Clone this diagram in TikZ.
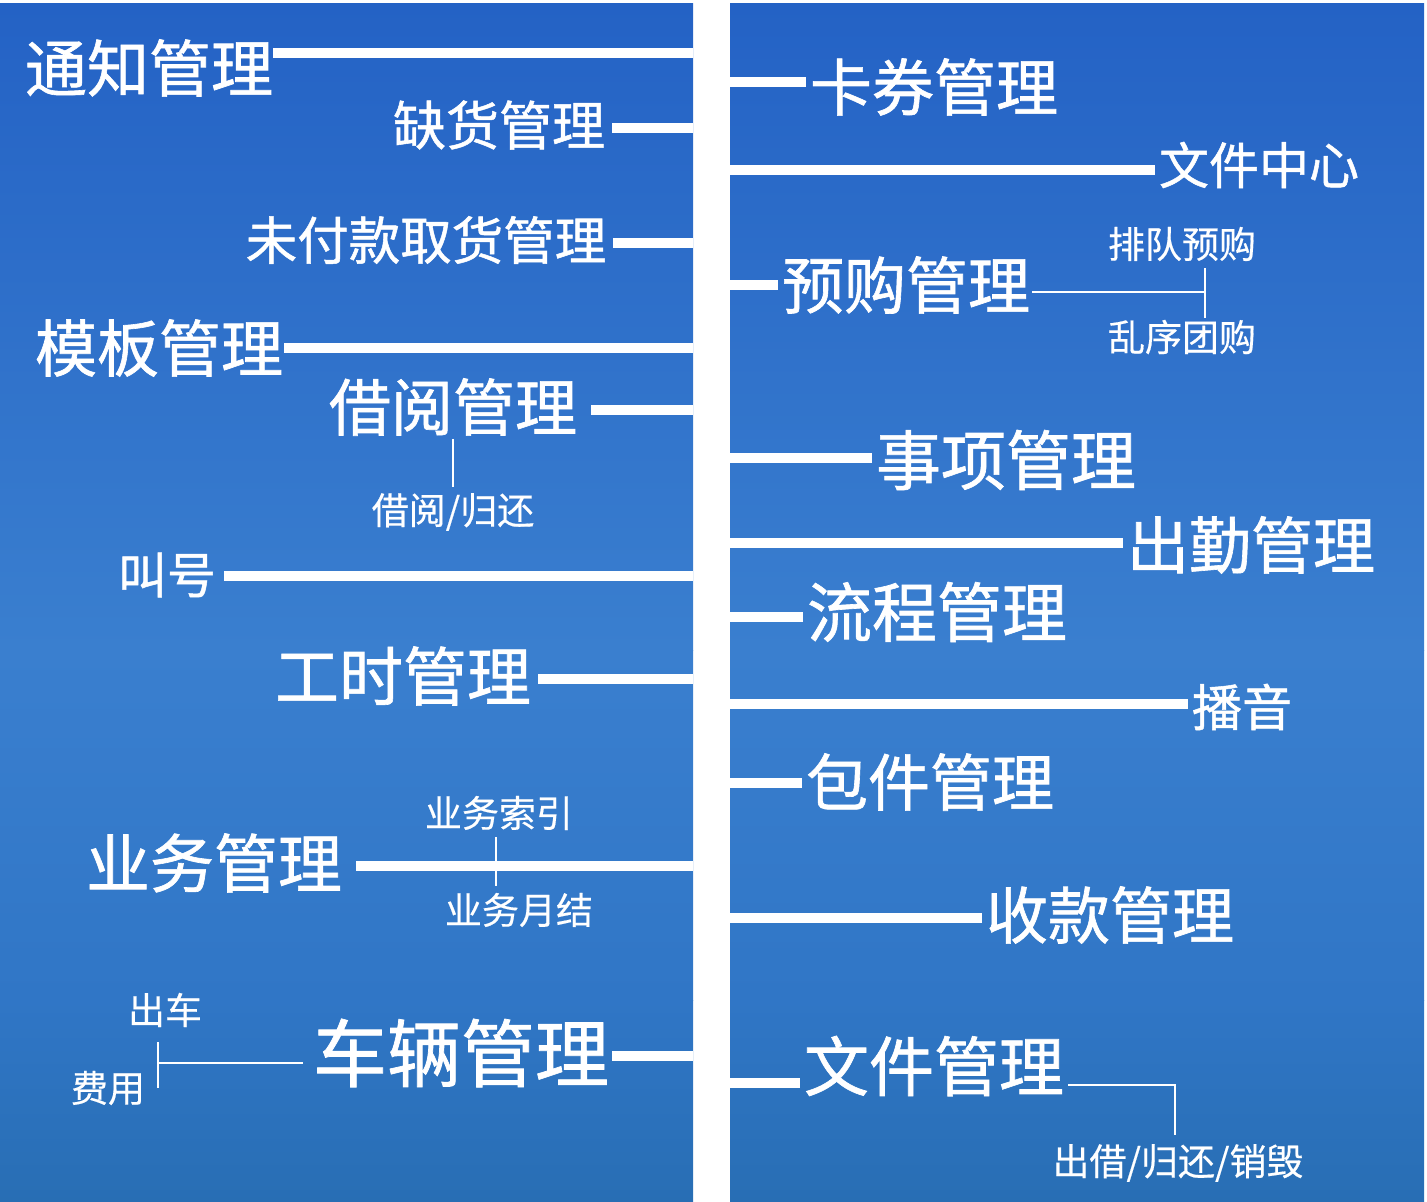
\documentclass[tikz,border=0pt]{standalone}
\usepackage{fontspec}
\newfontfamily\cjk[FakeBold=0.4]{Noto Sans CJK SC}
\newfontfamily\cjkbold[FakeBold=1]{Noto Sans CJK SC}
\definecolor{skytop}{RGB}{36,98,197}
\definecolor{skymid}{RGB}{58,127,207}
\definecolor{skylow}{RGB}{48,118,198}
\definecolor{grass}{RGB}{40,110,180}

\begin{document}
\begin{tikzpicture}[x=1pt, y=-1pt,
    trunk/.style={white, line width=9.5pt},
    twig/.style={white, line width=2.6pt},
    head/.style={text=white, inner sep=0pt, font=\cjkbold\fontsize{#1}{#1}\selectfont},
    sub/.style={text=white, inner sep=0pt, font=\cjk\fontsize{37}{37}\selectfont}]
    \useasboundingbox (0,0) rectangle (1427,1202);
    % sky, two panels
    \foreach \xa/\xb in {0/693, 730/1424} {
        \shade[top color=skytop, bottom color=skymid] (\xa,3) rectangle (\xb,650);
        \shade[top color=skymid, bottom color=skylow] (\xa,650) rectangle (\xb,1000);
        \shade[top color=skylow, bottom color=grass] (\xa,1000) rectangle (\xb,1202);
    }

    % left side
    \node[head=62] (n1) at (149,68) {通知管理};
    \node[head=53] (n2) at (499,125) {缺货管理};
    \node[head=51.5] (n3) at (426,240) {未付款取货管理};
    \node[head=62] (n4) at (159,348) {模板管理};
    \node[head=62] (n5) at (453,407) {借阅管理};
    \node[sub] (n5a) at (453,512) {借阅/归还};
    \node[head=49] (n6) at (167,575) {叫号};
    \node[head=64] (n7) at (403,676) {工时管理};
    \node[head=64] (n8) at (214,863) {业务管理};
    \node[sub] (n8a) at (499,813) {业务索引};
    \node[sub] (n8b) at (519,910) {业务月结};
    \node[head=74] (n9) at (461,1053) {车辆管理};
    \node[sub] (n9a) at (165,1010) {出车};
    \node[sub] (n9b) at (108,1088) {费用};

    \coordinate (s1) at (693,53);
    \coordinate (s2) at (693,128);
    \coordinate (s3) at (693,243);
    \coordinate (s4) at (693,348);
    \coordinate (s5) at (693,410);
    \coordinate (s6) at (693,576);
    \coordinate (s7) at (693,679);
    \coordinate (s8) at (693,866);
    \coordinate (s9) at (693,1056);
    \foreach \i/\g in {1/0, 2/7, 3/7, 4/1, 5/14, 6/8, 7/7, 8/14, 9/3}
        \draw[trunk, shorten >=\g pt] (s\i) -- (s\i -| n\i.east);

    \draw[twig, shorten <=3pt, shorten >=6pt] (n5.south) -- (n5a.north);
    \coordinate (t8) at (496,866);
    \draw[twig, shorten <=7pt, shorten >=7pt] (t8 |- n8a.south) -- (t8 |- n8b.north);
    \coordinate (k9) at (158,1063);
    \draw[twig, shorten <=10pt] (n9.west |- k9) -- (k9);
    \draw[twig] (k9) ++(0,-21) -- ++(0,46);

    % right side
    \node[head=62] (m1) at (934,87) {卡券管理};
    \node[head=50] (m2) at (1259,165) {文件中心};
    \node[head=62] (m3) at (906,285) {预购管理};
    \node[sub] (m3a) at (1182,244) {排队预购};
    \node[sub] (m3b) at (1182,337) {乱序团购};
    \node[head=65] (m4) at (1006,460) {事项管理};
    \node[head=62] (m5) at (1251,545) {出勤管理};
    \node[head=65] (m6) at (937,612) {流程管理};
    \node[head=50] (m7) at (1242,707) {播音};
    \node[head=62] (m8) at (930,782) {包件管理};
    \node[head=62] (m9) at (1110,915) {收款管理};
    \node[head=65] (m10) at (934,1066) {文件管理};
    \node[sub] (m10a) at (1178,1163) {出借/归还/销毁};

    \coordinate (r1) at (730,82);
    \coordinate (r2) at (730,170);
    \coordinate (r3) at (730,285);
    \coordinate (r4) at (730,458);
    \coordinate (r5) at (730,543);
    \coordinate (r6) at (730,617);
    \coordinate (r7) at (730,704);
    \coordinate (r8) at (730,783);
    \coordinate (r9) at (730,918);
    \coordinate (r10) at (730,1083);
    \foreach \i in {1,...,10}
        \draw[trunk, shorten >=4pt] (r\i) -- (r\i -| m\i.west);

    \coordinate (k3) at (1205,292);
    \draw[twig, shorten <=2pt] (m3.east |- k3) -- (k3);
    \draw[twig] (k3) ++(0,-24) -- ++(0,50);
    \coordinate (k10) at (1175,1085);
    \draw[twig, shorten <=4pt] (m10.east |- k10) -- (k10) -- ++(0,50);
\end{tikzpicture}
\end{document}
